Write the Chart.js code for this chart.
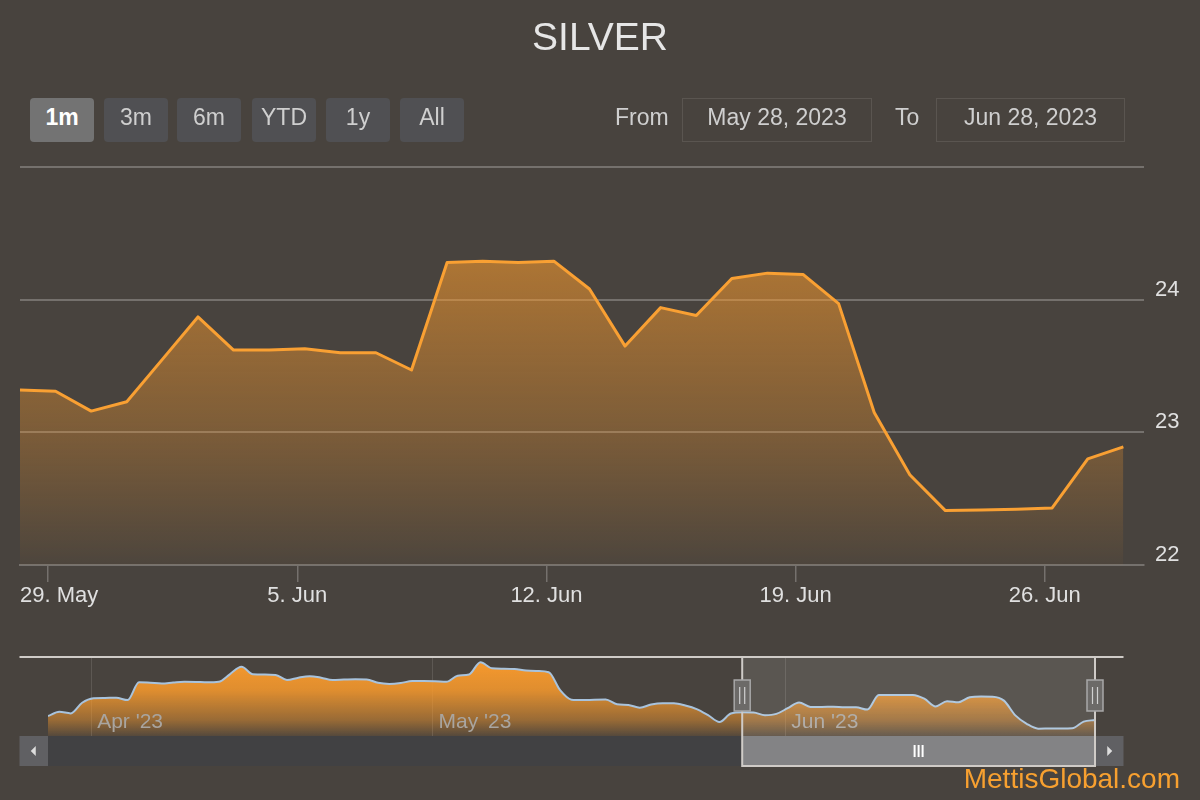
<!DOCTYPE html>
<html>
<head>
<meta charset="utf-8">
<title>SILVER</title>
<script src="https://cdn.jsdelivr.net/npm/chart.js@4.4.0/dist/chart.umd.min.js"></script>
<style>
  body { margin: 0; background: #48433e; font-family: "Liberation Sans", Arial, sans-serif; }
  #wrap { position: relative; width: 1200px; height: 800px; overflow: hidden; }
  canvas { position: absolute; left: 0; }
  #title { position: absolute; left: 0; width: 1200px; top: 17px; line-height: 40px; text-align: center; font-size: 39px; color: #e6e6e6; }
  .btn { position: absolute; top: 98px; width: 64px; height: 44px; line-height: 39px; border-radius: 4px; background: #505053; color: #cfcfcf; font-size: 23px; text-align: center; }
  .btn.on { background: #737373; color: #fff; font-weight: bold; }
  .lbl { position: absolute; top: 98px; line-height: 39px; font-size: 23px; color: #cfcfcf; }
  .box { position: absolute; top: 98px; height: 42px; line-height: 37px; border: 1px solid #5a5550; font-size: 23px; color: #cfcfcf; text-align: center; }
  #mark { position: absolute; right: 20px; top: 763px; font-size: 28px; line-height: 32px; color: #f7a030; }
</style>
</head>
<body>
<div id="wrap">
  <canvas id="mainChart" width="1200" height="620" style="top:0;width:1200px;height:620px"></canvas>
  <canvas id="navChart" width="1200" height="140" style="top:640px;width:1200px;height:140px"></canvas>
  <div id="title">SILVER</div>
  <div class="btn on" style="left:30px">1m</div>
  <div class="btn" style="left:104px">3m</div>
  <div class="btn" style="left:177px">6m</div>
  <div class="btn" style="left:252px">YTD</div>
  <div class="btn" style="left:326px">1y</div>
  <div class="btn" style="left:400px">All</div>
  <div class="lbl" style="left:615px">From</div>
  <div class="box" style="left:682px;width:188px">May 28, 2023</div>
  <div class="lbl" style="left:895px">To</div>
  <div class="box" style="left:936px;width:187px">Jun 28, 2023</div>
  <div id="mark">MettisGlobal.com</div>
</div>
<script>
Chart.defaults.font.family = '"Liberation Sans", Arial, sans-serif';
Chart.defaults.animation = false;

// days counted from 28 Mar 2023, quotes stamped around 05:00
const sampleHour = 5;

// 28 Mar .. 27 May (navigator only)
const earlierValues = [
  23.11, 23.35, 23.26, 23.85, 24.10, 24.12, 24.13, 24.00, 25.00, 24.97,
  24.93, 24.98, 25.02, 25.01, 24.99, 25.02, 25.45, 25.86, 25.44, 25.42,
  25.40, 25.12, 25.25, 25.33, 25.25, 25.12, 25.14, 25.16, 25.15, 24.96,
  24.90, 24.95, 25.06, 25.06, 25.05, 25.02, 25.36, 25.43, 26.11, 25.77,
  25.75, 25.73, 25.65, 25.62, 25.55, 24.55, 24.02, 24.00, 24.02, 24.03,
  23.77, 23.73, 23.58, 23.75, 23.82, 23.82, 23.70, 23.50, 23.16, 22.78, 23.25
];
// 28 May .. 28 Jun (selected month)
const monthValues = [
  23.32, 23.31, 23.16, 23.23, 23.55, 23.87, 23.62, 23.62, 23.63, 23.60, 23.60, 23.47,
  24.28, 24.29, 24.28, 24.29, 24.08, 23.65, 23.94, 23.88, 24.16, 24.20, 24.19, 23.97,
  23.15, 22.68, 22.41, 22.415, 22.42, 22.43, 22.80, 22.89
];

const weekTickDays = [62, 69, 76, 83, 90];
const weekTickLabels = ['29. May', '5. Jun', '12. Jun', '19. Jun', '26. Jun'];
const monthTickDays = [4, 34, 65];
const monthTickLabels = ["Apr '23", "May '23", "Jun '23"];
const yTicks = [22, 23, 24, 25];

const allValues = earlierValues.concat(monthValues);
const allPoints = allValues.map((v, i) => ({ x: i + sampleHour / 24, y: v }));
const monthPoints = allPoints.slice(earlierValues.length);
const selMin = monthPoints[0].x;
const selMax = monthPoints[monthPoints.length - 1].x;

function fillGradient(stops) {
  return (context) => {
    const { chart } = context;
    const a = chart.chartArea;
    if (!a) return null;
    const g = chart.ctx.createLinearGradient(0, a.top, 0, a.bottom);
    stops.forEach(([t, alpha]) => g.addColorStop(t, `rgba(250,155,45,${alpha})`));
    return g;
  };
}

// x labels for the main chart, kept inside the plot like Highcharts does
const weekLabels = {
  id: 'weekLabels',
  afterDraw(chart) {
    const { ctx, chartArea: a, scales: { x } } = chart;
    ctx.save();
    ctx.font = '22px "Liberation Sans", Arial, sans-serif';
    ctx.fillStyle = '#e0e0e0';
    ctx.textBaseline = 'middle';
    ctx.textAlign = 'left';
    weekTickDays.forEach((d, i) => {
      const px = x.getPixelForValue(d);
      const w = ctx.measureText(weekTickLabels[i]).width;
      const left = Math.min(Math.max(px - w / 2, a.left), a.right - w);
      ctx.fillText(weekTickLabels[i], left, a.bottom + 31);
    });
    ctx.restore();
  }
};

new Chart(document.getElementById('mainChart'), {
  type: 'line',
  data: {
    datasets: [{
      data: monthPoints,
      borderColor: '#f9a033',
      borderWidth: 3,
      borderJoinStyle: 'round',
      pointRadius: 0,
      tension: 0,
      fill: 'start',
      backgroundColor: fillGradient([[0, 0.72], [0.67, 0.29], [1, 0.03]]),
    }]
  },
  options: {
    responsive: false,
    layout: { padding: { top: 167, left: 20, right: 0, bottom: 0 } },
    plugins: { legend: { display: false }, tooltip: { enabled: false } },
    events: [],
    scales: {
      x: {
        type: 'linear',
        min: selMin,
        max: selMax + 0.58,
        afterBuildTicks: (s) => { s.ticks = weekTickDays.map(v => ({ value: v })); },
        afterFit: (s) => { s.height = 55; },
        ticks: { display: false },
        grid: { drawOnChartArea: false, drawTicks: true, tickLength: 17, color: '#75716d', lineWidth: 1.5 },
        border: { display: true, color: '#75716d', width: 2 },
      },
      y: {
        position: 'right',
        min: yTicks[0],
        max: yTicks[yTicks.length - 1],
        afterBuildTicks: (s) => { s.ticks = yTicks.map(v => ({ value: v })); },
        afterFit: (s) => { s.width = 56; },
        ticks: {
          color: '#e0e0e0',
          font: { size: 22 },
          padding: 11,
          labelOffset: -10,
          callback: (v) => (v === yTicks[yTicks.length - 1] ? '' : v),
        },
        grid: { color: '#75716d', lineWidth: 2, drawTicks: false },
        border: { display: false },
      }
    }
  },
  plugins: [weekLabels]
});

// navigator: labels, mask, outline, handles and scrollbar
const navDecor = {
  id: 'navDecor',
  afterDatasetsDraw(chart) {
    const { ctx, chartArea: a, scales: { x } } = chart;
    const btn = 28.5;
    const barTop = a.bottom, barH = 30;
    const lo = x.getPixelForValue(selMin);
    const hi = x.getPixelForValue(selMax);
    ctx.save();

    ctx.font = '21px "Liberation Sans", Arial, sans-serif';
    ctx.fillStyle = '#a9a5a0';
    ctx.textBaseline = 'middle';
    ctx.textAlign = 'left';
    monthTickDays.forEach((d, i) => {
      ctx.fillText(monthTickLabels[i], x.getPixelForValue(d) + 6, a.bottom - 14);
    });

    ctx.fillStyle = 'rgba(255,255,255,0.1)';
    ctx.fillRect(lo, a.top, hi - lo, a.bottom - a.top);

    // scrollbar
    ctx.fillStyle = '#606063';
    ctx.fillRect(a.left - btn, barTop, btn, barH);
    ctx.fillRect(a.right, barTop, btn, barH);
    ctx.fillStyle = '#414143';
    ctx.fillRect(a.left, barTop, a.right - a.left, barH);
    ctx.fillStyle = '#838385';
    ctx.fillRect(lo, barTop, hi - lo, barH);
    ctx.fillStyle = '#dddddd';
    const cy = barTop + barH / 2;
    ctx.beginPath();
    ctx.moveTo(a.left - btn / 2 - 3, cy);
    ctx.lineTo(a.left - btn / 2 + 2, cy - 5);
    ctx.lineTo(a.left - btn / 2 + 2, cy + 5);
    ctx.closePath();
    ctx.fill();
    ctx.beginPath();
    ctx.moveTo(a.right + btn / 2 + 3, cy);
    ctx.lineTo(a.right + btn / 2 - 2, cy - 5);
    ctx.lineTo(a.right + btn / 2 - 2, cy + 5);
    ctx.closePath();
    ctx.fill();
    ctx.strokeStyle = '#ffffff';
    ctx.lineWidth = 2;
    const mid = (lo + hi) / 2;
    [-4, 0, 4].forEach(o => {
      ctx.beginPath();
      ctx.moveTo(mid + o, cy - 6);
      ctx.lineTo(mid + o, cy + 6);
      ctx.stroke();
    });

    // outline
    ctx.strokeStyle = '#cfcbc7';
    ctx.lineWidth = 2;
    ctx.beginPath();
    ctx.moveTo(a.left - btn, a.top);
    ctx.lineTo(a.right + btn, a.top);
    ctx.moveTo(lo, a.top);
    ctx.lineTo(lo, barTop + barH);
    ctx.lineTo(hi, barTop + barH);
    ctx.lineTo(hi, a.top);
    ctx.stroke();

    // handles
    [lo, hi].forEach(p => {
      ctx.fillStyle = '#6c6a68';
      ctx.strokeStyle = '#a8a8a8';
      ctx.lineWidth = 1.5;
      ctx.fillRect(p - 8, a.top + 23, 16, 31);
      ctx.strokeRect(p - 8, a.top + 23, 16, 31);
      ctx.strokeStyle = '#d0d0d0';
      ctx.lineWidth = 1.2;
      [-2.5, 2.5].forEach(o => {
        ctx.beginPath();
        ctx.moveTo(p + o, a.top + 30);
        ctx.lineTo(p + o, a.top + 47);
        ctx.stroke();
      });
    });
    ctx.restore();
  }
};

new Chart(document.getElementById('navChart'), {
  type: 'line',
  data: {
    datasets: [{
      data: allPoints,
      borderColor: '#a8c3dd',
      borderWidth: 2,
      pointRadius: 0,
      cubicInterpolationMode: 'monotone',
      fill: 'start',
      backgroundColor: fillGradient([[0, 1], [0.42, 0.85], [0.8, 0.45], [1, 0.08]]),
    }]
  },
  options: {
    responsive: false,
    layout: { padding: { top: 17, left: 48, right: 105, bottom: 44 } },
    plugins: { legend: { display: false }, tooltip: { enabled: false } },
    events: [],
    scales: {
      x: {
        type: 'linear',
        min: allPoints[0].x,
        max: allPoints[allPoints.length - 1].x,
        afterBuildTicks: (s) => { s.ticks = monthTickDays.map(v => ({ value: v })); },
        afterFit: (s) => { s.height = 0; },
        ticks: { display: false },
        grid: { color: '#5d5853', lineWidth: 1, drawTicks: false },
        border: { display: false },
      },
      y: {
        display: false,
        min: 22.0,
        max: 26.4,
      }
    }
  },
  plugins: [navDecor]
});
</script>
</body>
</html>
